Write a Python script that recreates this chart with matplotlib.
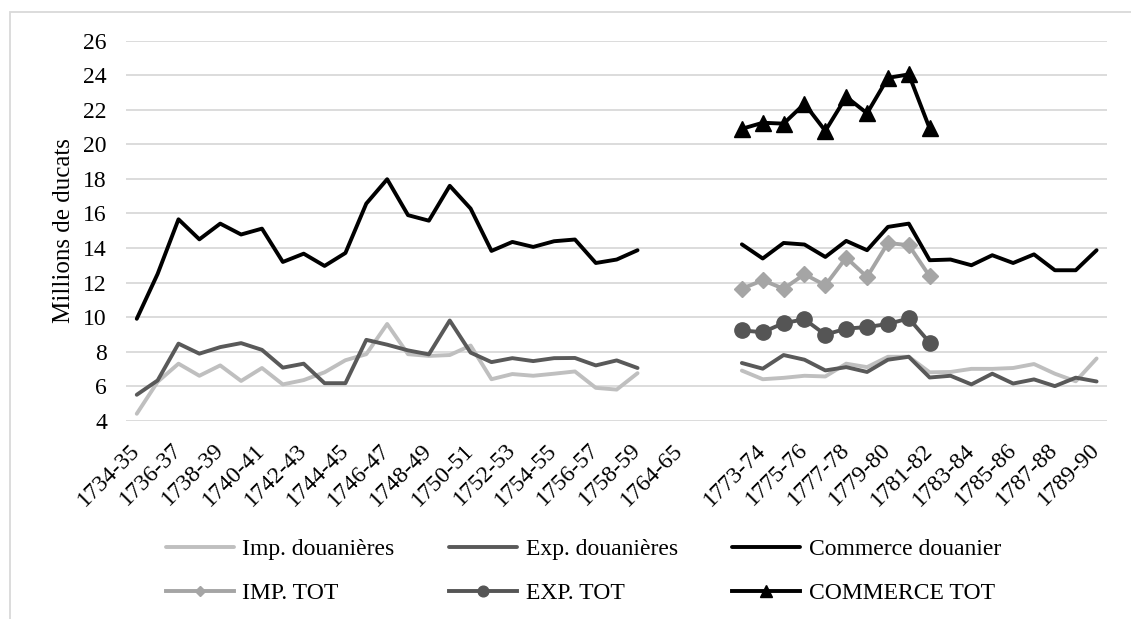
import numpy as np
import matplotlib
matplotlib.use('Agg')
import matplotlib.pyplot as plt
from matplotlib.patches import Rectangle

nan = np.nan

# categories (one per year, labels shown every other one; some gap years unlabelled)
years = ['1734-35', '1735-36', '1736-37', '1737-38', '1738-39', '1739-40', '1740-41',
         '1741-42', '1742-43', '1743-44', '1744-45', '1745-46', '1746-47', '1747-48',
         '1748-49', '1749-50', '1750-51', '1751-52', '1752-53', '1753-54', '1754-55',
         '1755-56', '1756-57', '1757-58', '1758-59', '', '1764-65', '',
         '', '1772-73', '1773-74', '1774-75', '1775-76', '1776-77', '1777-78',
         '1778-79', '1779-80', '1780-81', '1781-82', '1782-83', '1783-84', '1784-85',
         '1785-86', '1786-87', '1787-88', '1788-89', '1789-90']

gap = [nan] * 4

imp_douane = [4.4, 6.25, 7.3, 6.6, 7.2, 6.3, 7.05, 6.1, 6.35, 6.8, 7.5, 7.85, 9.6, 7.85,
              7.75, 7.8, 8.35, 6.4, 6.7, 6.6, 6.72, 6.85, 5.9, 5.8, 6.75] + gap + \
             [6.9, 6.4, 6.48, 6.6, 6.56, 7.3, 7.1, 7.7, 7.7, 6.8, 6.82, 7.0, 7.0, 7.05,
              7.28, 6.72, 6.28, 7.6]

exp_douane = [5.5, 6.33, 8.46, 7.88, 8.26, 8.49, 8.1, 7.07, 7.3, 6.17, 6.17, 8.68, 8.4,
              8.07, 7.84, 9.8, 7.94, 7.39, 7.62, 7.45, 7.62, 7.63, 7.2, 7.49, 7.05] + gap + \
             [7.34, 7.01, 7.8, 7.53, 6.91, 7.1, 6.82, 7.53, 7.7, 6.5, 6.6, 6.1, 6.72,
              6.15, 6.39, 6.0, 6.49, 6.27]

commerce_douane = [9.9, 12.5, 15.66, 14.5, 15.41, 14.78, 15.12, 13.19, 13.67, 12.96,
                   13.71, 16.57, 17.98, 15.9, 15.58, 17.6, 16.28, 13.83, 14.35, 14.06,
                   14.39, 14.49, 13.13, 13.33, 13.87] + gap + \
                  [14.21, 13.39, 14.29, 14.2, 13.48, 14.41, 13.87, 15.22, 15.41, 13.29,
                   13.33, 13.0, 13.58, 13.13, 13.63, 12.71, 12.71, 13.87]

head = [nan] * 29
tail = [nan] * 8

imp_tot = head + [11.64, 12.13, 11.64, 12.48, 11.84, 13.44, 12.32, 14.29, 14.16, 12.36] + tail
exp_tot = head + [9.23, 9.12, 9.65, 9.87, 8.98, 9.33, 9.42, 9.6, 9.92, 8.52] + tail
commerce_tot = head + [20.9, 21.25, 21.2, 22.35, 20.78, 22.75, 21.8, 23.85, 24.05, 20.92] + tail

plt.rcParams['font.family'] = ['Liberation Serif', 'DejaVu Serif']

fig = plt.figure(figsize=(11.31, 6.19), dpi=100, facecolor='white')
ax = fig.add_axes([0.1117, 0.3204, 0.9788 - 0.1117, 0.9342 - 0.3204])

x = np.arange(len(years))
lw = 2.8
l1, = ax.plot(x, imp_douane, color='#BFBFBF', lw=lw, label='Imp. douanières', solid_capstyle='round', zorder=3)
l2, = ax.plot(x, exp_douane, color='#595959', lw=lw, label='Exp. douanières', solid_capstyle='round', zorder=3)
l3, = ax.plot(x, commerce_douane, color='#000000', lw=lw, label='Commerce douanier', solid_capstyle='round', zorder=3)
l4, = ax.plot(x, imp_tot, color='#A5A5A5', lw=lw, marker='D', ms=8, label='IMP. TOT', zorder=4)
l5, = ax.plot(x, exp_tot, color='#555555', lw=lw, marker='o', ms=11, label='EXP. TOT', zorder=4)
l6, = ax.plot(x, commerce_tot, color='#000000', lw=lw, marker='^', ms=12, label='COMMERCE TOT', zorder=4)

ax.set_xlim(-0.5, len(years) - 0.5)
ax.set_ylim(4, 26)
ax.set_yticks(range(4, 27, 2))
ax.set_xticks(x[::2])
ax.set_xticklabels(years[::2], rotation=45, ha='right', va='center', rotation_mode='anchor')
ax.tick_params(axis='both', length=0, labelsize=17)
ax.tick_params(axis='y', pad=14)
ax.tick_params(axis='x', pad=19)
ax.grid(axis='y', color='#D9D9D9', lw=1.3, zorder=0)
ax.set_axisbelow(True)
for s in ax.spines.values():
    s.set_visible(False)
ax.set_ylabel('Millions de ducats', fontsize=18, labelpad=6)

# row-major order like the original legend
handles = [l1, l4, l2, l5, l3, l6]
fig.legend(handles=handles, labels=[h.get_label() for h in handles],
           loc='upper left', bbox_to_anchor=(0.138, 0.145), ncol=3, frameon=False,
           fontsize=17, handlelength=2.9, handletextpad=0.35, columnspacing=2.3,
           labelspacing=0.95, markerscale=0.7, borderaxespad=0)

# chart frame (only top/left visible in the reference)
fig.patches.append(Rectangle((9.7 / 1131, -0.1), 1.2, 1.081, transform=fig.transFigure,
                             fill=False, edgecolor='#D9D9D9', lw=1.3))

fig.savefig('out.png', dpi=100, facecolor='white')
